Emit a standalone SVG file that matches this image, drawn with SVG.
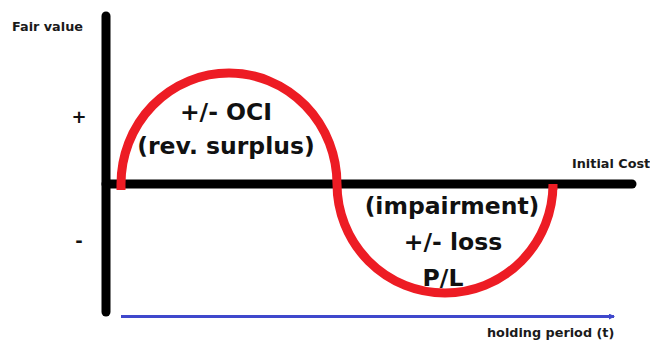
<svg xmlns="http://www.w3.org/2000/svg" width="650" height="342" viewBox="0 0 650 342">
  <style>
    .axis { stroke: #000; stroke-width: 9; stroke-linecap: round; fill: none; }
    .curve { stroke: #ed1c24; stroke-width: 9; fill: none; }
    .time { stroke: #3f48cc; stroke-width: 3; fill: none; }
    .small { font-family: "DejaVu Sans", Verdana, sans-serif; font-size: 12.8px; font-weight: bold; fill: #1a1a1a; }
    .big { font-family: "DejaVu Sans", Verdana, sans-serif; font-size: 23.5px; font-weight: bold; fill: #111; text-anchor: middle; }
    .sign { font-family: "DejaVu Sans", Verdana, sans-serif; font-size: 18px; font-weight: bold; fill: #111; text-anchor: middle; }
  </style>
  <defs>
    <marker id="arrow" markerWidth="6" markerHeight="6" refX="5" refY="3" orient="auto" markerUnits="userSpaceOnUse">
      <path d="M0,0 L6,3 L0,6 Z" fill="#3f48cc"/>
    </marker>
  </defs>
  <rect width="650" height="342" fill="#fff"/>

  <g id="axes">
    <line class="axis" x1="106" y1="16" x2="106" y2="312"/>
    <line class="axis" x1="106" y1="184" x2="632" y2="184"/>
  </g>

  <g id="connectors">
    <!-- fair value path: gain above cost, then loss below cost -->
    <path class="curve" d="M121,190 L121,184 A108,111 0 0 1 337,184 A108,109 0 0 0 553,184 L553,190"/>
    <!-- time axis -->
    <line class="time" x1="121" y1="316.5" x2="614" y2="316.5" marker-end="url(#arrow)"/>
  </g>

  <g id="labels">
    <text class="small" x="12" y="31">Fair value</text>
    <text class="small" x="572" y="168">Initial Cost</text>
    <text class="small" x="487" y="337">holding period (t)</text>
    <text class="sign" x="79" y="123">+</text>
    <text class="sign" x="79" y="247">-</text>
  </g>

  <g id="gain">
    <text class="big" x="226" y="120">+/- OCI</text>
    <text class="big" x="226" y="154">(rev. surplus)</text>
  </g>

  <g id="loss">
    <text class="big" x="452" y="214">(impairment)</text>
    <text class="big" x="453" y="250">+/- loss</text>
    <text class="big" x="443" y="286">P/L</text>
  </g>
</svg>
